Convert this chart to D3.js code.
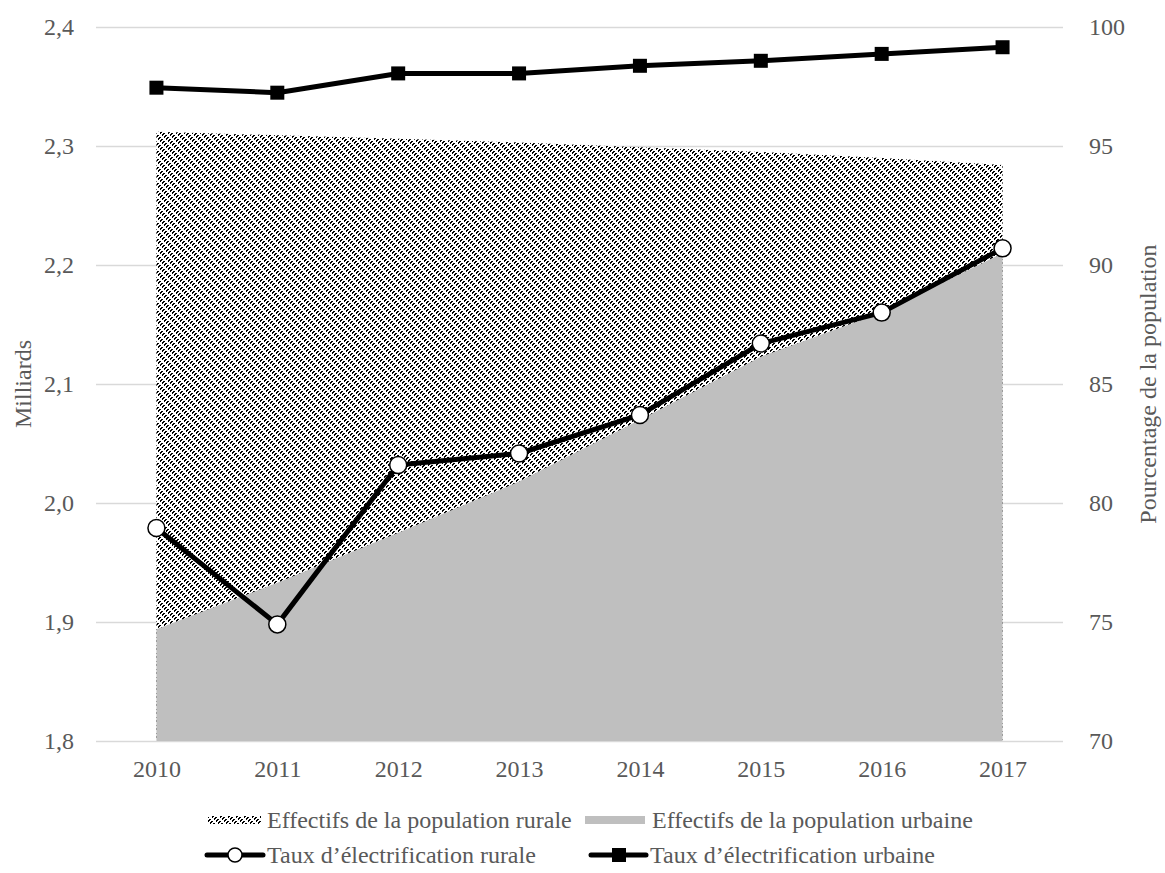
<!DOCTYPE html>
<html>
<head>
<meta charset="utf-8">
<script src="https://cdn.jsdelivr.net/npm/d3@7/dist/d3.min.js"></script>
<style>
  html, body { margin: 0; padding: 0; background: #ffffff; }
  svg { display: block; }
</style>
</head>
<body>
<svg id="chart" width="1165" height="873" font-family="Liberation Serif, Times New Roman, serif"></svg>
<script>
// ---- Data ----
const years = [2010, 2011, 2012, 2013, 2014, 2015, 2016, 2017];
const ruralPopulation = [2.312, 2.309, 2.306, 2.303, 2.299, 2.295, 2.290, 2.284]; // milliards
const urbanPopulation = [1.894, 1.933, 1.975, 2.018, 2.070, 2.123, 2.160, 2.210]; // milliards
const ruralElectrification = [78.95, 74.9, 81.6, 82.08, 83.7, 86.7, 88.0, 90.7]; // %
const urbanElectrification = [97.45, 97.24, 98.05, 98.05, 98.37, 98.58, 98.87, 99.15]; // %
const leftTicks = [1.8, 1.9, 2.0, 2.1, 2.2, 2.3, 2.4];
const rightTicks = [70, 75, 80, 85, 90, 95, 100];
const legendLabels = [
  "Effectifs de la population rurale",
  "Effectifs de la population urbaine",
  "Taux d\u2019\u00e9lectrification rurale",
  "Taux d\u2019\u00e9lectrification urbaine"
];
const leftTitle = "Milliards";
const rightTitle = "Pourcentage de la population";

// ---- Layout ----
const plot = { left: 96, right: 1063, top: 27, bottom: 741 };
const FS = 24;
const FONT = "Liberation Serif, Times New Roman, serif";
const TXT = "#595959";
const svg = d3.select("#chart");

const x = d3.scalePoint().domain(years).range([plot.left, plot.right]).padding(0.5);
const yL = d3.scaleLinear().domain([1.8, 2.4]).range([plot.bottom, plot.top]);
const yR = d3.scaleLinear().domain([70, 100]).range([plot.bottom, plot.top]);
const commaFmt = d => d3.format(".1f")(d).replace(".", ",");

// ---- Hatch pattern (dashed upward diagonal) ----
const defs = svg.append("defs");
const pat = defs.append("pattern")
  .attr("id", "hatch").attr("patternUnits", "userSpaceOnUse")
  .attr("width", 8).attr("height", 8);
pat.append("rect").attr("width", 8).attr("height", 8).attr("fill", "#ffffff");
const cells = [];
for (let py = 0; py < 8; py++) for (let px = 0; px < 8; px++) {
  const s = (px + py) % 4, dd = ((px - py) % 8 + 8) % 8;
  if (s < 2 && dd > 2) cells.push([px, py]);
}
pat.selectAll("rect.c").data(cells).join("rect").attr("class", "c")
  .attr("x", d => d[0]).attr("y", d => d[1]).attr("width", 1).attr("height", 1)
  .attr("fill", "#000000").attr("shape-rendering", "crispEdges");

// ---- Gridlines ----
svg.append("g").attr("transform", `translate(${plot.left},0)`)
  .call(d3.axisLeft(yL).tickValues(leftTicks).tickSize(-(plot.right - plot.left)).tickFormat(""))
  .call(g => g.select(".domain").remove())
  .call(g => g.selectAll("line").attr("stroke", "#d9d9d9").attr("stroke-width", 1.5));

// ---- Areas ----
const idx = d3.range(years.length);
const areaRural = d3.area().x(i => x(years[i])).y0(yL(1.8)).y1(i => yL(ruralPopulation[i]));
const areaUrban = d3.area().x(i => x(years[i])).y0(yL(1.8)).y1(i => yL(urbanPopulation[i]));
svg.append("path").datum(idx).attr("d", areaRural).attr("fill", "url(#hatch)");
svg.append("path").datum(idx).attr("d", areaUrban).attr("fill", "#bfbfbf");

// ---- Axes labels ----
const styleAxis = g => {
  g.attr("font-family", FONT).attr("font-size", FS);
  g.select(".domain").remove();
  g.selectAll("text").attr("font-family", FONT).attr("font-size", FS).attr("fill", TXT);
};
svg.append("g").attr("transform", `translate(${plot.left},0)`)
  .call(d3.axisLeft(yL).tickValues(leftTicks).tickSize(0).tickPadding(22).tickFormat(commaFmt))
  .call(styleAxis);

svg.append("g").attr("transform", `translate(${plot.right},0)`)
  .call(d3.axisRight(yR).tickValues(rightTicks).tickSize(0).tickPadding(26).tickFormat(d3.format("d")))
  .call(styleAxis);

svg.append("g").attr("transform", `translate(0,${plot.bottom})`)
  .call(d3.axisBottom(x).tickSize(0).tickPadding(19).tickFormat(d3.format("d")))
  .call(styleAxis);

// Axis titles
const addText = (sel) => sel.attr("font-family", FONT).attr("font-size", FS).attr("fill", TXT);
svg.append("text").attr("transform", `translate(31,384) rotate(-90)`)
  .attr("text-anchor", "middle").call(addText).text(leftTitle);
svg.append("text").attr("transform", `translate(1156,384) rotate(-90)`)
  .attr("text-anchor", "middle").call(addText).text(rightTitle);

// ---- Lines ----
const lineUrban = d3.line().x(i => x(years[i])).y(i => yR(urbanElectrification[i]));
const lineRural = d3.line().x(i => x(years[i])).y(i => yR(ruralElectrification[i]));
svg.append("path").datum(idx).attr("d", lineUrban).attr("fill", "none")
  .attr("stroke", "#000").attr("stroke-width", 5).attr("stroke-linejoin", "round");
svg.append("path").datum(idx).attr("d", lineRural).attr("fill", "none")
  .attr("stroke", "#000").attr("stroke-width", 5).attr("stroke-linejoin", "round");

svg.append("g").selectAll("rect").data(idx).join("rect")
  .attr("x", i => x(years[i]) - 7).attr("y", i => yR(urbanElectrification[i]) - 7)
  .attr("width", 14).attr("height", 14).attr("fill", "#000");
svg.append("g").selectAll("circle").data(idx).join("circle")
  .attr("cx", i => x(years[i])).attr("cy", i => yR(ruralElectrification[i]))
  .attr("r", 8.5).attr("fill", "#fff").attr("stroke", "#000").attr("stroke-width", 1.5);

// ---- Legend ----
const lg = svg.append("g");
const row1 = 820, row2 = 855;
// item 1: hatch
lg.append("rect").attr("x", 208).attr("y", row1 - 4).attr("width", 53).attr("height", 8).attr("fill", "url(#hatch)");
lg.append("text").attr("x", 267).attr("y", row1).attr("dy", "0.35em").call(addText).text(legendLabels[0]);
// item 2: grey
lg.append("rect").attr("x", 585).attr("y", row1 - 4).attr("width", 60).attr("height", 8).attr("fill", "#bfbfbf");
lg.append("text").attr("x", 652).attr("y", row1).attr("dy", "0.35em").call(addText).text(legendLabels[1]);
// item 3: rural line
lg.append("line").attr("x1", 207).attr("x2", 263).attr("y1", row2).attr("y2", row2)
  .attr("stroke", "#000").attr("stroke-width", 5).attr("stroke-linecap", "round");
lg.append("circle").attr("cx", 235).attr("cy", row2).attr("r", 7)
  .attr("fill", "#fff").attr("stroke", "#000").attr("stroke-width", 1.5);
lg.append("text").attr("x", 267).attr("y", row2).attr("dy", "0.35em").call(addText).text(legendLabels[2]);
// item 4: urban line
lg.append("line").attr("x1", 591).attr("x2", 646).attr("y1", row2).attr("y2", row2)
  .attr("stroke", "#000").attr("stroke-width", 5).attr("stroke-linecap", "round");
lg.append("rect").attr("x", 612).attr("y", row2 - 7).attr("width", 14).attr("height", 14).attr("fill", "#000");
lg.append("text").attr("x", 650).attr("y", row2).attr("dy", "0.35em").call(addText).text(legendLabels[3]);
</script>
</body>
</html>
